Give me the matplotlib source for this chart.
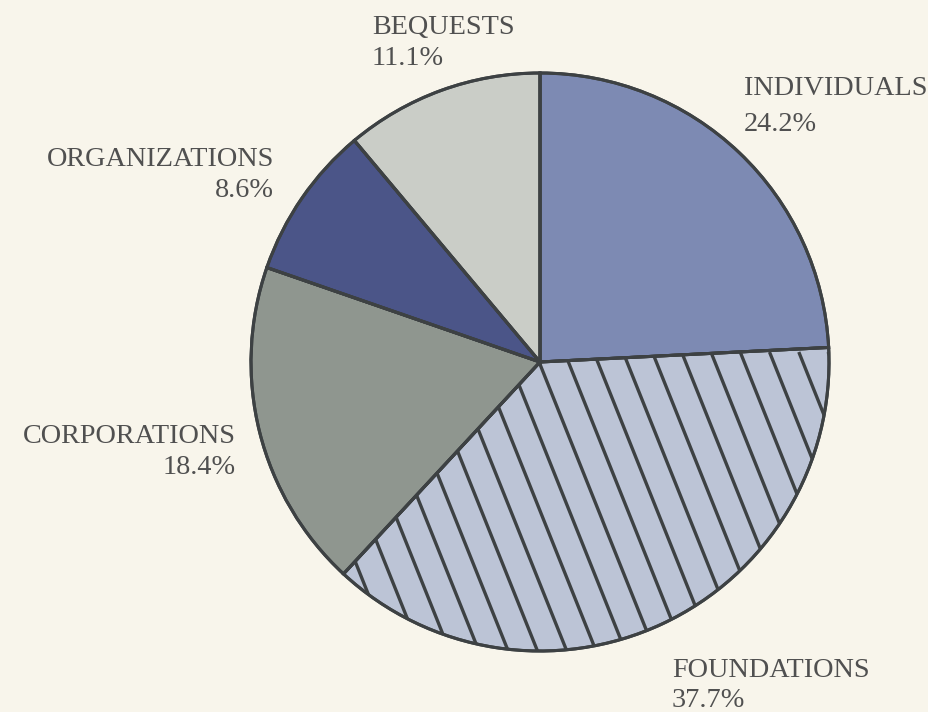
import matplotlib.pyplot as plt
import numpy as np

# Sources of funds
labels = ['INDIVIDUALS', 'FOUNDATIONS', 'CORPORATIONS', 'ORGANIZATIONS', 'BEQUESTS']
shares = [24.2, 37.7, 18.4, 8.6, 11.1]
colors = ['#7d8ab3', '#bcc4d6', '#8f968f', '#4b5588', '#cacdc7']

W, H = 929, 712
bg = '#f8f5eb'
edge = '#3d4143'
txt = '#505050'

fig = plt.figure(figsize=(W / 100, H / 100), dpi=100, facecolor=bg)
ax = fig.add_axes([0, 0, 1, 1])
ax.set_facecolor(bg)

cx, cy, r = 540, H - 362, 289
wedges, _ = ax.pie(shares, colors=colors, startangle=90, counterclock=False,
                   center=(cx, cy), radius=r, frame=True,
                   wedgeprops=dict(edgecolor=edge, linewidth=2.2))
ax.set_xlim(0, W)
ax.set_ylim(0, H)
ax.set_aspect('equal')
ax.axis('off')

# steep diagonal hatching on the foundations slice
found = wedges[1]
yy = np.array([cy - r - 10, cy + 10])
for k in range(-20, 20):
    x0 = 627 + k * 29.3
    xx = x0 - 0.4 * (yy - cy)
    ln, = ax.plot(xx, yy, color=edge, lw=2.4, solid_capstyle='butt', zorder=3)
    ln.set_clip_path(found)

# redraw outlines over the hatching
for w in wedges:
    ax.add_patch(plt.matplotlib.patches.Wedge(w.center, w.r, w.theta1, w.theta2,
                                              fill=False, edgecolor=edge, lw=2.2, zorder=4))

font = dict(family=['Liberation Serif', 'DejaVu Serif'], fontsize=20.3, color=txt)

# label positions (pixel coords: x, baseline of name, baseline of pct, alignment)
pos = {
    'INDIVIDUALS': (744, 95, 131, 'left'),
    'FOUNDATIONS': (672, 677, 707, 'left'),
    'CORPORATIONS': (236, 443, 474, 'right'),
    'ORGANIZATIONS': (274, 166, 197, 'right'),
    'BEQUESTS': (372, 34, 65, 'left'),
}
for name, val in zip(labels, shares):
    x, y1, y2, ha = pos[name]
    ax.text(x, H - y1, name, ha=ha, va='baseline', **font)
    ax.text(x, H - y2, f'{val}%', ha=ha, va='baseline', **font)

fig.savefig('out.png', dpi=100, facecolor=bg)
